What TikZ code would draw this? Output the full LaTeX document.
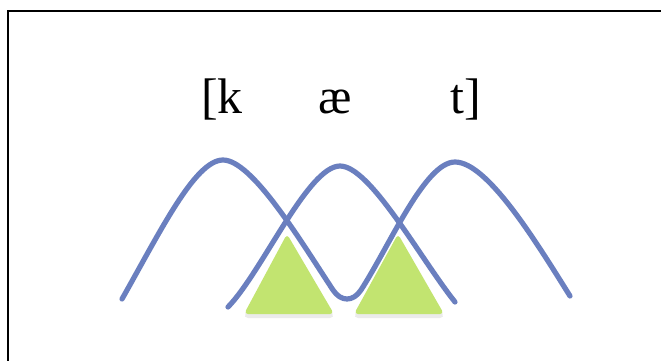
\documentclass[tikz,border=0pt]{standalone}
\usepackage{fontspec}
\setmainfont{Liberation Serif}
\definecolor{curveblue}{RGB}{106,127,191}
\definecolor{trigreen}{RGB}{194,228,112}
\begin{document}
\begin{tikzpicture}[x=1pt,y=-1pt,
  bell/.style={draw=curveblue,line width=5.2pt,line cap=round,line join=round},
  tri/.style={fill=trigreen,rounded corners=4pt},
  shade/.style={fill=black,opacity=0.08,rounded corners=5pt},
  phon/.style={anchor=base,inner sep=0pt,font=\fontsize{50}{56}\selectfont}]
\useasboundingbox (0,0) rectangle (661,360);
\clip (0,0) rectangle (661,360);
\fill[white] (0,0) rectangle (661,360);
\draw[line width=2.5pt] (8,11) rectangle (680,380);
% labels
\node[phon] (k) at (222,113) {[k};
\node[phon] (ae) at (335,113) {æ};
\node[phon] (t) at (466,113) {t]};
% shadows
\fill[shade] (287,238) -- (335,318) -- (243,318) -- cycle;
\fill[shade] (398,238) -- (445,318) -- (353,318) -- cycle;
% triangles
\fill[tri] (287,234) -- (334,314) -- (244,314) -- cycle;
\fill[tri] (398,234) -- (444,314) -- (354,314) -- cycle;
% curves
\draw[bell] (122,299) .. controls (160,232) and (195,160) .. (223,160)
  .. controls (252,160) and (300,240) .. (333,290)
  .. controls (341,302) and (353,302) .. (361,290)
  .. controls (390,245) and (425,162) .. (455,162)
  .. controls (487,162) and (535,240) .. (570,296);
\draw[bell] (228,307) .. controls (262,272) and (308,166) .. (340,166)
  .. controls (370,166) and (420,258) .. (455,302);
\end{tikzpicture}
\end{document}
